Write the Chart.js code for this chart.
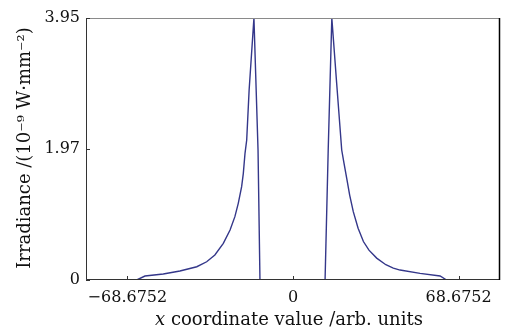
<!DOCTYPE html>
<html><head><meta charset="utf-8">
<script src="https://cdn.jsdelivr.net/npm/chart.js@4/dist/chart.umd.min.js"></script>
<style>html,body{margin:0;padding:0;background:#fff}#wrap{width:514px;height:332px}</style>
</head><body><div id="wrap"><canvas id="c" width="514" height="332"></canvas></div>
<script>
const xValues = [-85.84, -64.8, -61.4, -53.8, -46.9, -39.9, -35.8, -32.4, -28.9, -26.1, -24.1, -22.7, -21.3, -20.6, -19.9, -19.2, -18.2, -16.2, -14.5, -13.7,
                 13.3, 14.6, 16.1, 18.1, 20.2, 21.2, 22.3, 23.5, 25.0, 27.0, 29.2, 31.5, 34.7, 38.5, 41.6, 44.4, 52.7, 61.0, 63.7, 85.84];
const yValues = [0, 0, 0.06, 0.09, 0.135, 0.20, 0.275, 0.377, 0.553, 0.754, 0.955, 1.156, 1.407, 1.608, 1.91, 2.11, 2.86, 3.95, 1.96, 0,
                 0, 1.96, 3.95, 2.97, 1.96, 1.75, 1.53, 1.28, 1.03, 0.78, 0.58, 0.45, 0.33, 0.23, 0.18, 0.15, 0.10, 0.06, 0, 0];
const xTicks = [-68.6752, 0, 68.6752];
const xTickLabels = ['\u221268.6752', '0', '68.6752'];
const yTicks = [0, 1.97, 3.95];
const yTickLabels = ['0', '1.97', '3.95'];
const xRange = [-85.844, 85.844];
const yRange = [0, 3.95];
const yTitle = 'Irradiance /(10\u207B\u2079 W\u00B7mm\u207B\u00B2)';
const xTitleVar = 'x';
const xTitleRest = ' coordinate value /arb. units';

const FONT = '"DejaVu Serif", "Liberation Serif", serif';
const FS = 16;
const TFS = 18;

const framePlugin = {
  id: 'frame',
  afterDraw(chart) {
    const {ctx, chartArea: a, scales} = chart;
    ctx.save();
    ctx.lineWidth = 1;
    ctx.strokeStyle = '#8a8a8a';
    ctx.beginPath(); ctx.moveTo(a.left, a.top + 0.5); ctx.lineTo(a.right, a.top + 0.5); ctx.stroke();
    ctx.strokeStyle = '#333';
    ctx.beginPath();
    ctx.moveTo(a.left + 0.5, a.top); ctx.lineTo(a.left + 0.5, a.bottom - 0.5);
    ctx.lineTo(a.right - 0.5, a.bottom - 0.5); ctx.stroke();
    ctx.strokeStyle = '#000';
    ctx.lineWidth = 1.5;
    ctx.beginPath(); ctx.moveTo(a.right - 0.5, a.top); ctx.lineTo(a.right - 0.5, a.bottom); ctx.stroke();
    ctx.lineWidth = 1;
    ctx.strokeStyle = '#333';
    xTicks.forEach(v => {
      const px = Math.round(scales.x.getPixelForValue(v)) + 0.5;
      ctx.beginPath(); ctx.moveTo(px, a.bottom); ctx.lineTo(px, a.bottom - 4); ctx.stroke();
    });
    yTicks.forEach(v => {
      const py = Math.round(scales.y.getPixelForValue(v)) + 0.5;
      ctx.beginPath(); ctx.moveTo(a.left, py); ctx.lineTo(a.left + 4, py); ctx.stroke();
    });
    ctx.fillStyle = '#111';
    ctx.textBaseline = 'alphabetic';
    ctx.font = 'italic ' + TFS + 'px ' + FONT;
    const w1 = ctx.measureText(xTitleVar).width;
    ctx.font = TFS + 'px ' + FONT;
    const w2 = ctx.measureText(xTitleRest).width;
    const sx = 289 - (w1 + w2) / 2;
    ctx.font = 'italic ' + TFS + 'px ' + FONT;
    ctx.fillText(xTitleVar, sx, 325);
    ctx.font = TFS + 'px ' + FONT;
    ctx.fillText(xTitleRest, sx + w1, 325);
    ctx.translate(30, 148);
    ctx.rotate(-Math.PI / 2);
    ctx.textAlign = 'center';
    ctx.fillText(yTitle, 0, 0);
    ctx.restore();
  }
};

new Chart(document.getElementById('c'), {
  type: 'line',
  data: {
    datasets: [{
      data: xValues.map((x, i) => ({x, y: yValues[i]})),
      borderColor: '#34378a',
      borderWidth: 1.4,
      pointRadius: 0,
      tension: 0,
      fill: false
    }]
  },
  options: {
    responsive: false,
    animation: false,
    devicePixelRatio: 1,
    layout: {padding: {top: 18, right: 14, left: 0, bottom: 0}},
    plugins: {legend: {display: false}, tooltip: {enabled: false}},
    scales: {
      x: {
        type: 'linear', min: xRange[0], max: xRange[1],
        afterFit(s) { s.height = 52; },
        afterBuildTicks(s) { s.ticks = xTicks.map(v => ({value: v})); },
        ticks: {
          autoSkip: false, maxRotation: 0, padding: 8,
          color: '#111', font: {family: FONT, size: FS},
          callback: (v) => xTickLabels[xTicks.indexOf(v)]
        },
        grid: {display: false, drawTicks: false},
        border: {display: false}
      },
      y: {
        type: 'linear', min: yRange[0], max: yRange[1],
        afterFit(s) { s.width = 86; },
        afterBuildTicks(s) { s.ticks = yTicks.map(v => ({value: v})); },
        ticks: {
          autoSkip: false, padding: 6,
          color: '#111', font: {family: FONT, size: FS},
          callback: (v) => yTickLabels[yTicks.indexOf(v)]
        },
        grid: {display: false, drawTicks: false},
        border: {display: false}
      }
    }
  },
  plugins: [framePlugin]
});
</script></body></html>
